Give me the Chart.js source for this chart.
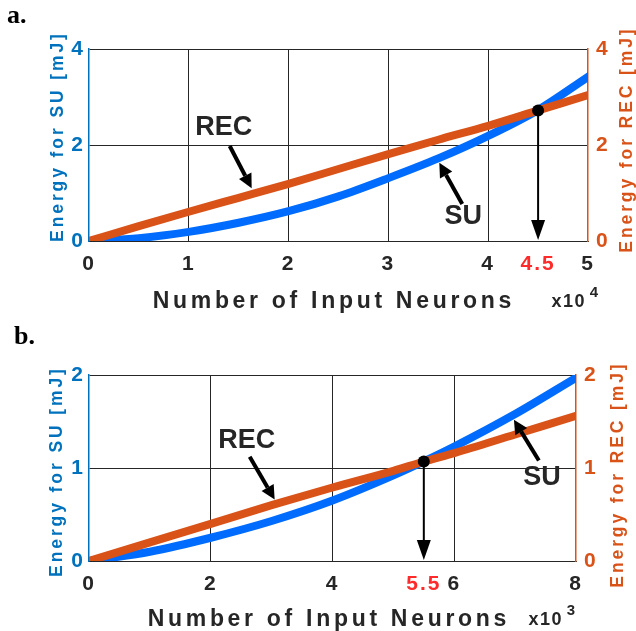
<!DOCTYPE html>
<html>
<head>
<meta charset="utf-8">
<script src="https://cdn.jsdelivr.net/npm/chart.js@4.4.1/dist/chart.umd.min.js"></script>
<style>
  body { margin: 0; background: #fff; width: 636px; height: 631px; position: relative; overflow: hidden; }
  .wrap { position: absolute; left: 0; width: 636px; }
  .tag { position: absolute; font: bold 26px "Liberation Serif", "Times New Roman", serif; color: #000; }
</style>
</head>
<body>
<div class="wrap" style="top:0;height:318px"><canvas id="chartA"></canvas></div>
<div class="wrap" style="top:318px;height:313px"><canvas id="chartB"></canvas></div>
<div class="tag" style="left:7px;top:0px">a.</div>
<div class="tag" style="left:14px;top:321px">b.</div>
<script>
// panel a data (x in units of 10^4 neurons)
const xA = [0, 0.5, 1, 1.5, 2, 2.5, 3, 3.5, 4, 4.5, 5];
const suA = [0, 0.06, 0.19, 0.38, 0.62, 0.93, 1.31, 1.72, 2.19, 2.73, 3.42];
const recA = [0, 0.31, 0.61, 0.90, 1.19, 1.50, 1.81, 2.11, 2.40, 2.72, 3.04];
const ticksXA = [0, 1, 2, 3, 4, 4.5, 5];
const ticksYA = [0, 2, 4];
const crossA = [4.5, 2.72];
const labelsA = [{ text: 'REC', x: 1.35, y: 2.37 }, { text: 'SU', x: 3.75, y: 0.5 }];
const arrowsA = [[1.41, 1.98, 1.63, 1.1], [3.74, 0.77, 3.51, 1.63]];

// panel b data (x in units of 10^3 neurons)
const xB = [0, 1, 2, 3, 4, 5, 5.5, 6, 7, 8];
const suB = [0, 0.1, 0.25, 0.43, 0.65, 0.92, 1.07, 1.23, 1.58, 1.97];
const recB = [0, 0.2, 0.40, 0.6, 0.79, 0.97, 1.07, 1.16, 1.36, 1.56];
const ticksXB = [0, 2, 4, 5.5, 6, 8];
const ticksYB = [0, 1, 2];
const crossB = [5.5, 1.07];
const labelsB = [{ text: 'REC', x: 2.59, y: 1.29 }, { text: 'SU', x: 7.44, y: 0.9 }];
const arrowsB = [[2.64, 1.12, 3.05, 0.66], [7.39, 1.08, 6.98, 1.52]];

const BLUE_LINE = 'rgb(0,108,255)';
const BLUE_AXIS = '#0072BD';
const ORANGE = '#D95319';
const DARK = '#262626';
const RED = '#FF2A2A';
const FONT = 'Arial, "Liberation Sans", sans-serif';

function arrow(ctx, x1, y1, x2, y2, lw, headLen, headHalf) {
  var ang = Math.atan2(y2 - y1, x2 - x1);
  var bx = x2 - headLen * Math.cos(ang), by = y2 - headLen * Math.sin(ang);
  ctx.lineWidth = lw;
  ctx.beginPath();
  ctx.moveTo(x1, y1);
  ctx.lineTo(bx, by);
  ctx.stroke();
  ctx.beginPath();
  ctx.moveTo(x2, y2);
  ctx.lineTo(bx + headHalf * Math.sin(ang), by - headHalf * Math.cos(ang));
  ctx.lineTo(bx - headHalf * Math.sin(ang), by + headHalf * Math.cos(ang));
  ctx.closePath();
  ctx.fill();
}

function spacedText(ctx, text, x, y, font, color, spacing, rot) {
  ctx.save();
  ctx.translate(x, y);
  if (rot) ctx.rotate(rot);
  ctx.font = font;
  ctx.fillStyle = color;
  ctx.letterSpacing = spacing + 'px';
  ctx.textAlign = 'center';
  ctx.textBaseline = 'middle';
  ctx.fillText(text, spacing / 2, 0);
  ctx.restore();
}

// draws labels, arrows, crossing marker and axis titles
const annotate = {
  id: 'annotate',
  beforeDraw(chart) {
    chart.ctx.letterSpacing = '2px';
  },
  afterDatasetsDraw(chart, args, o) {
    const ctx = chart.ctx, sx = chart.scales.x, sy = chart.scales.y;
    ctx.save();
    ctx.letterSpacing = '0px';
    ctx.fillStyle = '#000';
    ctx.strokeStyle = '#000';
    o.arrows.forEach(function (a) {
      arrow(ctx, sx.getPixelForValue(a[0]), sy.getPixelForValue(a[1]),
        sx.getPixelForValue(a[2]), sy.getPixelForValue(a[3]), 4, 14, 7);
    });
    const cx = sx.getPixelForValue(o.cross[0]), cy = sy.getPixelForValue(o.cross[1]);
    arrow(ctx, cx, cy, cx, sy.getPixelForValue(0) - 1, 2, 20, 7);
    ctx.beginPath();
    ctx.arc(cx, cy, 6, 0, Math.PI * 2);
    ctx.fill();
    ctx.font = 'bold 27px ' + FONT;
    ctx.fillStyle = DARK;
    ctx.textAlign = 'center';
    ctx.textBaseline = 'middle';
    o.labels.forEach(function (l) {
      ctx.fillText(l.text, sx.getPixelForValue(l.x), sy.getPixelForValue(l.y));
    });
    ctx.restore();
  },
  afterDraw(chart, args, o) {
    const ctx = chart.ctx;
    spacedText(ctx, 'Number of Input Neurons', o.xTitle[0], o.xTitle[1], 'bold 23px ' + FONT, DARK, 3.7, 0);
    spacedText(ctx, 'x10', o.mult[0], o.mult[1], 'bold 18px ' + FONT, DARK, 1.5, 0);
    spacedText(ctx, o.exp, o.mult[0] + 26, o.mult[1] - 9, 'bold 15px ' + FONT, DARK, 0, 0);
    spacedText(ctx, 'Energy for SU [mJ]', o.yTitle[0], o.yTitle[1], 'bold 17.5px ' + FONT, BLUE_AXIS, 2.9, -Math.PI / 2);
    spacedText(ctx, 'Energy for REC [mJ]', o.y1Title[0], o.y1Title[1], 'bold 17.5px ' + FONT, ORANGE, 2.9, -Math.PI / 2);
  }
};

function makeChart(id, p) {
  const pts = function (ys) { return p.xs.map(function (x, i) { return { x: x, y: ys[i] }; }); };
  const hideAt = function (vals, color) {
    return function (c) { return c.tick && vals.indexOf(c.tick.value) >= 0 ? 'rgba(0,0,0,0)' : color; };
  };
  return new Chart(document.getElementById(id), {
    type: 'line',
    data: {
      datasets: [
        { label: 'REC', data: pts(p.rec), yAxisID: 'y1', borderColor: ORANGE, borderWidth: 8,
          pointRadius: 0, cubicInterpolationMode: 'monotone', order: 0, borderCapStyle: 'square' },
        { label: 'SU', data: pts(p.su), yAxisID: 'y', borderColor: BLUE_LINE, borderWidth: 8,
          pointRadius: 0, cubicInterpolationMode: 'monotone', order: 1, borderCapStyle: 'square' }
      ]
    },
    options: {
      responsive: true,
      maintainAspectRatio: false,
      animation: false,
      layout: { padding: { top: p.top, left: 0, right: 0, bottom: 0 } },
      plugins: {
        legend: { display: false },
        tooltip: { enabled: false },
        annotate: p.notes
      },
      scales: {
        x: {
          type: 'linear', min: 0, max: p.xMax,
          afterBuildTicks: function (s) { s.ticks = p.ticksX.map(function (v) { return { value: v }; }); },
          afterFit: function (s) { s.height = p.xAxisH; },
          ticks: {
            autoSkip: false, maxRotation: 0, padding: 11,
            font: { family: FONT, size: 21, weight: 'bold' },
            color: function (c) { return c.tick && c.tick.value === p.notes.cross[0] ? RED : DARK; }
          },
          grid: { drawTicks: false, lineWidth: 1, color: hideAt([0, p.xMax, p.notes.cross[0]], DARK) },
          border: { color: DARK, width: 1 }
        },
        y: {
          position: 'left', min: 0, max: p.yMax,
          afterBuildTicks: function (s) { s.ticks = p.ticksY.map(function (v) { return { value: v }; }); },
          afterFit: function (s) { s.width = p.left; },
          ticks: { padding: 4, color: BLUE_AXIS, font: { family: FONT, size: 21, weight: 'bold' } },
          grid: { drawTicks: false, lineWidth: 1, color: hideAt([0], DARK) },
          border: { color: BLUE_AXIS, width: 1.5 }
        },
        y1: {
          position: 'right', min: 0, max: p.yMax,
          afterBuildTicks: function (s) { s.ticks = p.ticksY.map(function (v) { return { value: v }; }); },
          afterFit: function (s) { s.width = p.rightW; },
          ticks: { padding: 8, color: ORANGE, font: { family: FONT, size: 21, weight: 'bold' } },
          grid: { drawOnChartArea: false, drawTicks: false },
          border: { color: ORANGE, width: 1.5 }
        }
      }
    },
    plugins: [annotate]
  });
}

makeChart('chartA', {
  xs: xA, su: suA, rec: recA, ticksX: ticksXA, ticksY: ticksYA,
  xMax: 5, yMax: 4, top: 49, left: 89, rightW: 48, xAxisH: 77,
  notes: { cross: crossA, labels: labelsA, arrows: arrowsA, exp: '4',
    xTitle: [332, 302], mult: [568, 302], yTitle: [58, 138], y1Title: [627, 141] }
});

makeChart('chartB', {
  xs: xB, su: suB, rec: recB, ticksX: ticksXB, ticksY: ticksYB,
  xMax: 8, yMax: 2, top: 57, left: 89, rightW: 60, xAxisH: 70,
  notes: { cross: crossB, labels: labelsB, arrows: arrowsB, exp: '3',
    xTitle: [327, 302], mult: [545, 302], yTitle: [57, 155], y1Title: [618, 158] }
});
</script>
</body>
</html>
